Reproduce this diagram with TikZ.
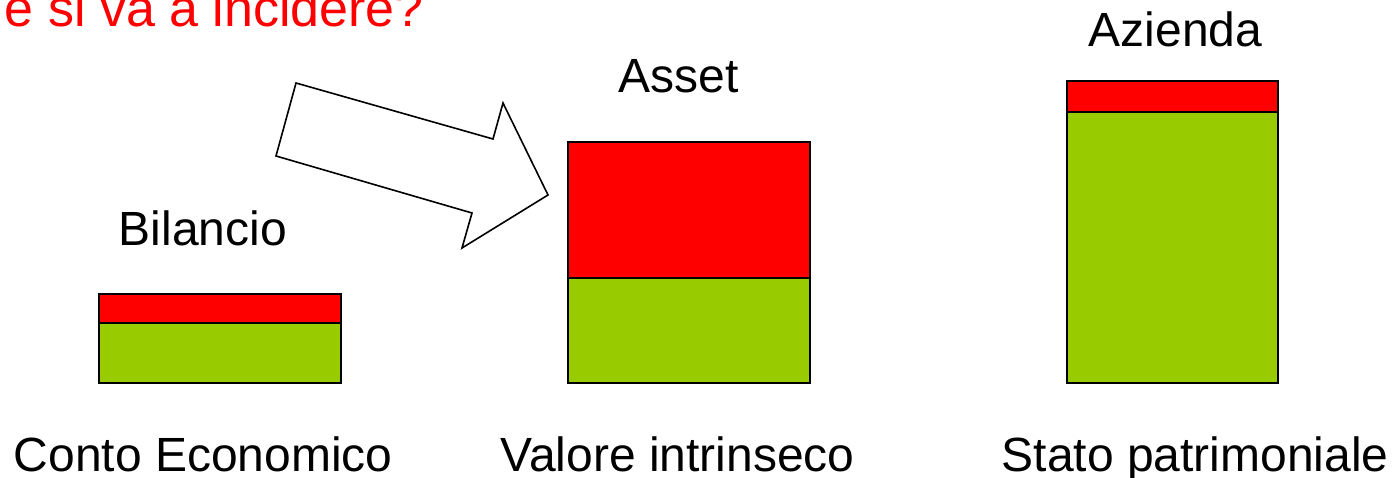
\documentclass[tikz,border=0pt]{standalone}
\usepackage{fontspec}
\setmainfont{Liberation Sans}
\definecolor{barred}{HTML}{FF0000}
\definecolor{bargreen}{HTML}{99CC00}
\begin{document}
\begin{tikzpicture}[x=1pt, y=-1pt, line width=1.6pt,
	label text/.style={anchor=base west, inner sep=0, font=\fontsize{48}{58}\selectfont}]
	\useasboundingbox (0, 0) rectangle (1394, 478);
	\node[label text, text=barred, font=\fontsize{52}{62}\selectfont] (domanda) at (4, 27) {e si va a incidere?};
	% bilancio
	\draw[fill=bargreen] (99, 323) rectangle (341, 383);
	\draw[fill=barred] (99, 294) rectangle (341, 323);
	\node[label text] (bilancio) at (118, 246) {Bilancio};
	\node[label text] (conto) at (13, 471) {Conto Economico};
	% asset
	\draw[fill=bargreen] (568, 278) rectangle (810, 383);
	\draw[fill=barred] (568, 142) rectangle (810, 278);
	\node[label text] (asset) at (618, 93) {Asset};
	\node[label text] (valore) at (500, 471) {Valore intrinseco};
	% azienda
	\draw[fill=bargreen] (1067, 112) rectangle (1278, 383);
	\draw[fill=barred] (1067, 81) rectangle (1278, 112);
	\node[label text] (azienda) at (1088, 47) {Azienda};
	\node[label text] (stato) at (1001, 471) {Stato patrimoniale};
	% freccia
	\draw[fill=white] (296, 83) -- (493, 139) -- (503, 103) -- (548, 195) -- (462, 248) -- (472, 213) -- (276, 156) -- cycle;
\end{tikzpicture}
\end{document}
